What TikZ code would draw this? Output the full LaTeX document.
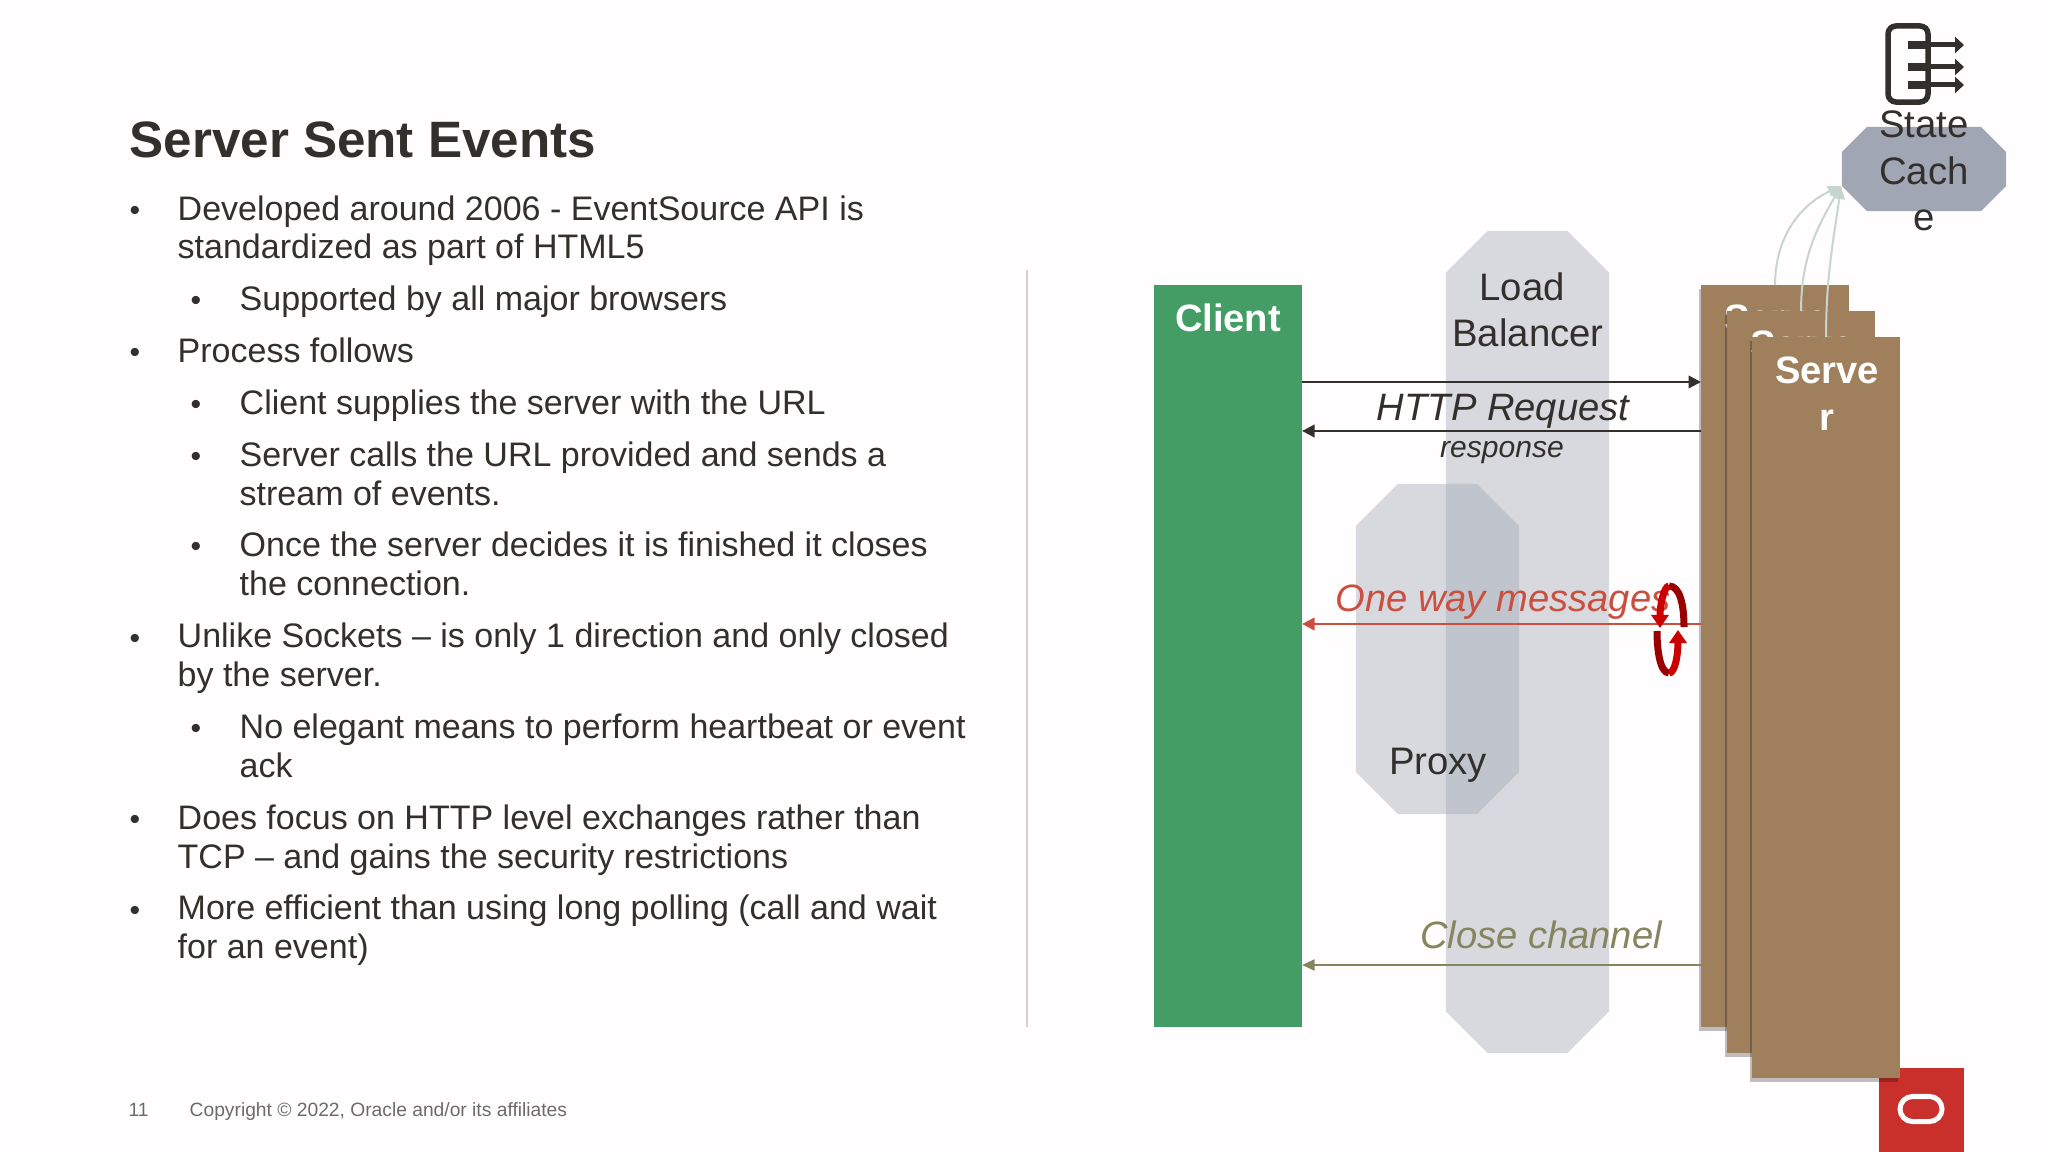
\documentclass[tikz,border=0pt]{standalone}
\usepackage{fontspec}
\setmainfont{Liberation Sans}
\usetikzlibrary{arrows.meta,positioning,shapes,shadows,calc}
\definecolor{pagebg}{HTML}{FFFDFD}
\definecolor{inktext}{HTML}{322F2C}
\definecolor{clientgreen}{HTML}{439D64}
\definecolor{serverbrown}{HTML}{9F7F5C}
\definecolor{octagrey}{HTML}{A0A6B3}
\definecolor{msgred}{HTML}{CB4F3E}
\definecolor{closeolive}{HTML}{85855F}
\definecolor{cacheline}{HTML}{C7D5CF}
\definecolor{oraclered}{HTML}{C9302C}
\newcommand{\octafill}[3]{\fill[#3] ($(#1.north west)+(#2,0)$) -- ($(#1.north east)+(-#2,0)$) -- ($(#1.north east)+(0,#2)$) -- ($(#1.south east)+(0,-#2)$) -- ($(#1.south east)+(-#2,0)$) -- ($(#1.south west)+(#2,0)$) -- ($(#1.south west)+(0,-#2)$) -- ($(#1.north west)+(0,#2)$) -- cycle;}
\tikzset{
  bodytext/.style={anchor=base west,align=left,inner sep=0,text=inktext,font=\fontsize{9.67pt}{10.98pt}\selectfont},
  dotmark/.style={anchor=base,inner sep=0,text=inktext,font=\fontsize{8.6pt}{11pt}\selectfont},
  headtext/.style={anchor=base,align=center,inner sep=0,font=\bfseries\fontsize{10.85pt}{13.4pt}\selectfont,text=white},
  plaintext/.style={anchor=base,align=center,inner sep=0,font=\fontsize{10.9pt}{13.3pt}\selectfont,text=inktext},
  msgtext/.style={anchor=base,inner sep=0,font=\itshape\fontsize{10.85pt}{13.4pt}\selectfont},
  footer/.style={anchor=base west,inner sep=0,text=black!58,font=\fontsize{5.47pt}{7pt}\selectfont},
  octabox/.style={rectangle,inner sep=0,outer sep=0},
  serverbox/.style={anchor=north west,inner sep=0,outer sep=0,minimum width=1.48cm,fill=serverbrown,
    general shadow={shadow xshift=-.025cm,shadow yshift=-.04cm,fill=black,opacity=.25}},
  blackmsg/.style={-{Triangle[length=.125cm,width=.125cm]},line width=.025cm,draw=inktext},
  cachemsg/.style={-{Triangle[length=.13cm,width=.11cm]},line width=.02cm,draw=cacheline},
  looparc/.style={line width=.07cm}
}
\begin{document}
\begin{tikzpicture}[x=.01cm,y=-.01cm]
\useasboundingbox (0,0) rectangle (2048,1152);
\fill[pagebg] (0,0) rectangle (2048,1152);
% left column
\node[anchor=base west,inner sep=0,text=inktext,font=\bfseries\fontsize{14.55pt}{17pt}\selectfont] (title) at (129,158) {Server Sent Events};
\foreach \n/\x/\y in {1/135/221,2/196/311,3/135/363,4/196/415,5/196/467,6/196/557,7/135/648,8/196/738,9/135/829,10/135/920}
  \node[dotmark] (dot\n) at (\x,\y) {•};
\node[bodytext] (item1) at (177,259) {Developed around 2006 - EventSource API is\\standardized as part of HTML5};
\node[bodytext] (item2) at (239,311) {Supported by all major browsers};
\node[bodytext] (item3) at (177,363) {Process follows};
\node[bodytext] (item4) at (239,415) {Client supplies the server with the URL};
\node[bodytext] (item5) at (239,505) {Server calls the URL provided and sends a\\stream of events.};
\node[bodytext] (item6) at (239,595) {Once the server decides it is finished it closes\\the connection.};
\node[bodytext] (item7) at (177,686) {Unlike Sockets – is only 1 direction and only closed\\by the server.};
\node[bodytext] (item8) at (239,777) {No elegant means to perform heartbeat or event\\ack};
\node[bodytext] (item9) at (177,868) {Does focus on HTTP level exchanges rather than\\TCP – and gains the security restrictions};
\node[bodytext] (item10) at (177,958) {More efficient than using long polling (call and wait\\for an event)};
\node[footer] (pagenum) at (128,1116) {11};
\node[footer] (copyright) at (189,1116) {Copyright © 2022, Oracle and/or its affiliates};
\coordinate (ruletop) at (1027,270);
\coordinate (rulebot) at (1027,1027);
\draw[line width=.025cm,black!18] (ruletop) -- (rulebot);
% oracle mark
\node[anchor=north west,inner sep=0,minimum width=.85cm,minimum height=.85cm,fill=oraclered] (oracle) at (1878,1067) {};
\node[rounded rectangle,draw=pagebg,line width=.05cm,inner sep=0,minimum width=.42cm,minimum height=.25cm] (oraclelogo) at (1921,1109) {};
% proxies
\node[octabox,minimum width=1.63cm,minimum height=8.22cm] (lb) at (1527.5,642) {};
\node[octabox,minimum width=1.63cm,minimum height=3.30cm] (proxy) at (1437.5,649) {};
\octafill{lb}{42}{octagrey,fill opacity=.41}
\octafill{proxy}{42}{octagrey,fill opacity=.41}
\node[plaintext] (lblabel) at (1528,347) {Load\hspace*{.12cm}\\Balancer};
\node[plaintext] (proxylabel) at (1438,774) {Proxy};
% client and servers
\node[anchor=north west,inner sep=0,outer sep=0,minimum width=1.48cm,minimum height=7.42cm,fill=clientgreen] (client) at (1154,285) {};
\node[headtext] (clientlabel) at (1228,332) {Client};
\node[serverbox,minimum height=7.42cm] (server1) at (1701,285) {};
\node[headtext] (server1label) at (1776,379) {Serve\\r};
\node[serverbox,minimum height=7.42cm] (server2) at (1727,311) {};
\node[headtext] (server2label) at (1802,405) {Serve\\r};
\node[serverbox,minimum height=7.41cm] (server3) at (1752,337) {};
\node[headtext] (server3label) at (1827,431) {Serve\\r};
% state cache
\node[octabox,minimum width=1.64cm,minimum height=.84cm] (cache) at (1924,169) {};
\octafill{cache}{25}{octagrey}
\node[plaintext] (cachelabel) at (1924,231) {State\\Cach\\e};
\coordinate (cacheport) at (1841,186);
\draw[cachemsg] (server1.north) to[out=90,in=205] (cacheport);
\draw[cachemsg] (server2.north) to[out=90,in=240] (cacheport);
\draw[cachemsg] (server3.north) to[out=90,in=262] (cacheport);
% messages
\coordinate (reqrow) at (0,382);
\coordinate (resprow) at (0,431);
\coordinate (onewayrow) at (0,624);
\coordinate (closerow) at (0,965);
\draw[blackmsg] (client.east |- reqrow) -- (server1.west |- reqrow);
\draw[blackmsg] (server1.west |- resprow) -- (client.east |- resprow);
\draw[-{Triangle[length=.125cm,width=.125cm]},line width=.022cm,draw=msgred] (server1.west |- onewayrow) -- (client.east |- onewayrow);
\draw[-{Triangle[length=.125cm,width=.11cm]},line width=.02cm,draw=closeolive] (server1.west |- closerow) -- (client.east |- closerow);
\node[msgtext,text=inktext] (reqlabel) at (1503,421) {HTTP Request};
\node[msgtext,text=inktext,font=\itshape\fontsize{8.55pt}{10pt}\selectfont] (resplabel) at (1502,458) {response};
\node[msgtext,text=msgred] (onewaylabel) at (1503,611) {One way messages};
\node[msgtext,text=closeolive] (closelabel) at (1541,948) {Close channel};
% loop arrows
\coordinate (looptop) at (1669,586);
\coordinate (loopbot) at (1669,673);
\coordinate (loopleft) at (1660,628);
\coordinate (loopright) at (1678,630);
\draw[looparc,draw=red!60!black] (looptop) .. controls (1680,586) and (1684,605) .. (1684,627);
\draw[looparc,draw=red!80!black,-{Triangle[length=.13cm,width=.17cm]}] (looptop) .. controls (1664,586) and (1660,605) .. (loopleft);
\draw[looparc,draw=red!60!black] (loopbot) .. controls (1660,673) and (1657,650) .. (1657,631);
\draw[looparc,draw=red!80!black,-{Triangle[length=.13cm,width=.17cm]}] (loopbot) .. controls (1675,673) and (1678,655) .. (loopright);
% state icon
\node[rounded corners=.08cm,draw=inktext,line width=.055cm,inner sep=0,minimum width=.40cm,minimum height=.76cm] (stateicon) at (1908,64) {};
\foreach \n/\y in {1/45,2/67,3/85}{
  \coordinate (tapstart\n) at (1908,\y);
  \coordinate (tapend\n) at (1964,\y);
  \draw[inktext,line width=.05cm,-{Triangle[length=.09cm,width=.16cm]}] (tapstart\n) -- (tapend\n);
  \draw[inktext,line width=.085cm] (tapstart\n) -- (stateicon.east |- tapstart\n);
}
\end{tikzpicture}
\end{document}
